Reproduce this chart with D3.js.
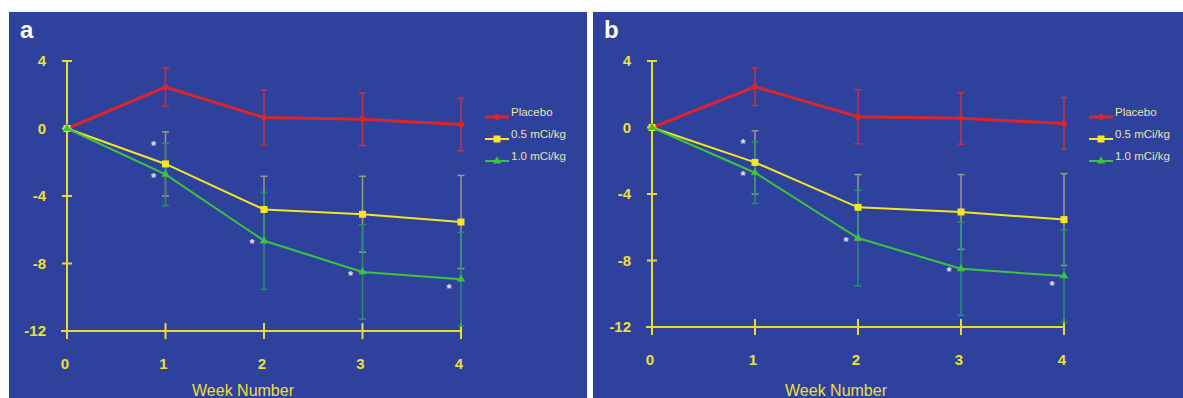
<!DOCTYPE html>
<html>
<head>
<meta charset="utf-8">
<script src="https://cdn.jsdelivr.net/npm/d3@7"></script>
<style>
  body { margin: 0; background: #fff; }
  svg { display: block; }
</style>
</head>
<body>
<div id="chart"></div>
<script>
// data (change from baseline, by week)
const weeks = [0, 1, 2, 3, 4];
const yTicks = [4, 0, -4, -8, -12];
const seriesNames = ["Placebo", "0.5 mCi/kg", "1.0 mCi/kg"];
const placebo = [0, 2.45, 0.65, 0.55, 0.24];
const placeboErr = [0, 1.13, 1.63, 1.55, 1.56];
const dose05 = [0, -2.1, -4.8, -5.08, -5.54];
const dose05Err = [0, 1.9, 1.97, 2.25, 2.76];
const dose10 = [0, -2.72, -6.65, -8.5, -8.93];
const dose10Err = [0, 1.85, 2.88, 2.8, 2.77];
// significance asterisks: week and value where they sit
const starWeeks = [1, 1, 2, 3, 4];
const starValues = [-0.9, -2.8, -6.75, -8.6, -9.4];
const panelLabels = ["a", "b"];

const width = 1183, height = 398;

const svg = d3.select("#chart")
  .append("svg")
    .attr("width", width)
    .attr("height", height);

const axisColor = "#e9dc2c";
const textColor = "#ece03a";

// style per series
const styles = [
  { line: "#d8262c", err: "#c23346", lw: 3, marker: "circle" },
  { line: "#f2e625", err: "#9a9a86", lw: 2, marker: "square" },
  { line: "#3cc43c", err: "#2a8f6e", lw: 2, marker: "triangle" }
];
const values = [placebo, dose05, dose10];
const errs = [placeboErr, dose05Err, dose10Err];

// layout of the two panels
const layouts = [
  { left: 9, right: 587, x0: 67, x4: 461, yTop: 61, yBot: 331, legendX: 485, titleX: 243 },
  { left: 593, right: 1183, x0: 652, x4: 1064, yTop: 61, yBot: 327, legendX: 1089, titleX: 836 }
];

function marker(g, type, cx, cy, color) {
  if (type === "circle") {
    g.append("circle").attr("cx", cx).attr("cy", cy).attr("r", 3).attr("fill", color);
  } else if (type === "square") {
    g.append("rect").attr("x", cx - 3.5).attr("y", cy - 3.5).attr("width", 7).attr("height", 7).attr("fill", color);
  } else {
    g.append("path").attr("d", d3.symbol(d3.symbolTriangle, 30)()).attr("transform", `translate(${cx},${cy})`).attr("fill", color);
  }
}

layouts.forEach((L, pi) => {
  const g = svg.append("g");

  g.append("rect")
    .attr("x", L.left).attr("y", 12)
    .attr("width", L.right - L.left).attr("height", height - 12)
    .attr("fill", "#2e419c");

  g.append("text")
    .attr("x", L.left + 11).attr("y", 38)
    .text(panelLabels[pi])
    .attr("font-family", "Liberation Sans, Arial, sans-serif")
    .attr("font-weight", 700).attr("font-size", 24)
    .attr("fill", "#fff");

  const x = d3.scaleLinear().domain([0, 4]).range([L.x0, L.x4]);
  const y = d3.scaleLinear().domain([4, -12]).range([L.yTop, L.yBot]);

  // axes
  g.append("line")
    .attr("x1", x(0)).attr("x2", x(0))
    .attr("y1", y(4)).attr("y2", y(-12) + 7)
    .attr("stroke", axisColor).attr("stroke-width", 2);
  g.append("line")
    .attr("x1", x(0) - 6).attr("x2", x(4))
    .attr("y1", y(-12)).attr("y2", y(-12))
    .attr("stroke", axisColor).attr("stroke-width", 2);

  g.selectAll(".ytick")
    .data(yTicks)
    .join("line")
      .attr("x1", x(0) - 5).attr("x2", x(0) + 5)
      .attr("y1", d => y(d)).attr("y2", d => y(d))
      .attr("stroke", axisColor).attr("stroke-width", 2);
  g.selectAll(".ylab")
    .data(yTicks)
    .join("text")
      .attr("x", x(0) - 21)
      .attr("y", d => y(d) + 5)
      .attr("text-anchor", "end")
      .text(d => d)
      .attr("font-family", "Liberation Sans, Arial, sans-serif")
      .attr("font-weight", 700).attr("font-size", 15)
      .attr("fill", textColor);

  g.selectAll(".xtick")
    .data(weeks)
    .join("line")
      .attr("x1", d => x(d)).attr("x2", d => x(d))
      .attr("y1", y(-12) - 8).attr("y2", y(-12) + 8)
      .attr("stroke", axisColor).attr("stroke-width", 2);
  g.selectAll(".xlab")
    .data(weeks)
    .join("text")
      .attr("x", d => x(d) - 2)
      .attr("y", y(-12) + 38)
      .attr("text-anchor", "middle")
      .text(d => d)
      .attr("font-family", "Liberation Sans, Arial, sans-serif")
      .attr("font-weight", 700).attr("font-size", 15)
      .attr("fill", textColor);

  g.append("text")
    .attr("x", L.titleX).attr("y", 396)
    .attr("text-anchor", "middle")
    .text("Week Number")
    .attr("font-family", "Liberation Sans, Arial, sans-serif")
    .attr("font-size", 16)
    .attr("fill", textColor);

  // error bars, drawn first so lines go on top
  values.forEach((vals, si) => {
    const st = styles[si];
    weeks.forEach((w, i) => {
      const e = errs[si][i];
      if (!e) return;
      const eg = g.append("g").attr("stroke", st.err).attr("stroke-width", 1.5);
      eg.append("line").attr("x1", x(w)).attr("x2", x(w)).attr("y1", y(vals[i] + e)).attr("y2", y(vals[i] - e));
      eg.append("line").attr("x1", x(w) - 3.5).attr("x2", x(w) + 3.5).attr("y1", y(vals[i] + e)).attr("y2", y(vals[i] + e));
      eg.append("line").attr("x1", x(w) - 3.5).attr("x2", x(w) + 3.5).attr("y1", y(vals[i] - e)).attr("y2", y(vals[i] - e));
    });
  });

  // lines + markers, green ends up on top at week 0
  [0, 1, 2].forEach(si => {
    const st = styles[si];
    const line = d3.line().x((d, i) => x(weeks[i])).y(d => y(d));
    g.append("path")
      .attr("d", line(values[si]))
      .attr("fill", "none")
      .attr("stroke", st.line)
      .attr("stroke-width", st.lw);
    values[si].forEach((v, i) => marker(g, st.marker, x(weeks[i]), y(v), st.line));
  });

  // asterisks
  g.selectAll(".star")
    .data(starWeeks)
    .join("text")
      .attr("x", d => x(d) - 12)
      .attr("y", (d, i) => y(starValues[i]) + 6)
      .attr("text-anchor", "middle")
      .text("*")
      .attr("font-family", "Liberation Sans, Arial, sans-serif")
      .attr("font-weight", 700).attr("font-size", 13)
      .attr("fill", "#e4e0f4");

  // legend
  const lg = g.append("g");
  seriesNames.forEach((name, si) => {
    const st = styles[si];
    const ly = 117 + si * 22;
    lg.append("line")
      .attr("x1", L.legendX).attr("x2", L.legendX + 24)
      .attr("y1", ly).attr("y2", ly)
      .attr("stroke", st.line).attr("stroke-width", si === 0 ? 3 : 2);
    marker(lg, st.marker, L.legendX + 12, ly, st.line);
    lg.append("text")
      .attr("x", L.legendX + 26).attr("y", ly - 1)
      .text(name)
      .attr("font-family", "Liberation Sans, Arial, sans-serif")
      .attr("font-size", 11.5)
      .attr("fill", "#e8e2b4");
  });
});
</script>
</body>
</html>
